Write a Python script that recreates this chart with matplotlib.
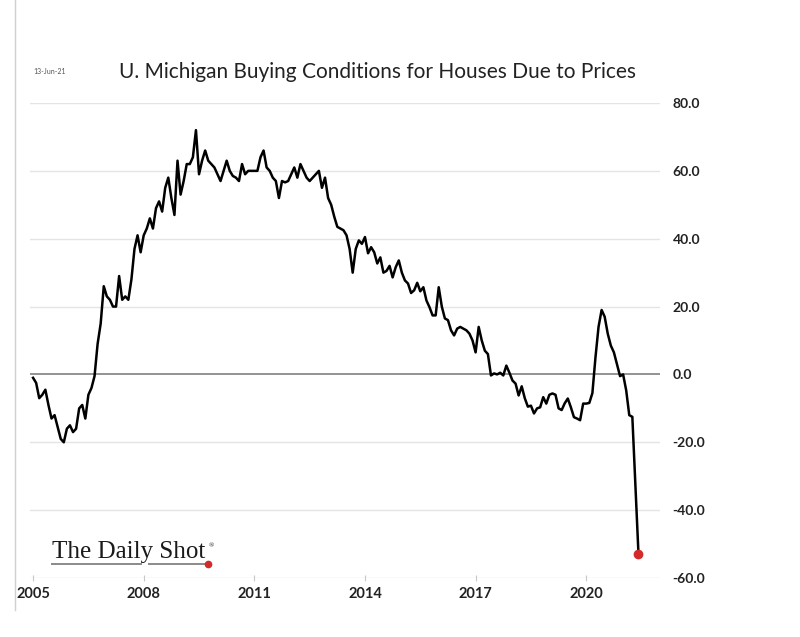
import matplotlib
matplotlib.use("Agg")
import matplotlib.pyplot as plt
from matplotlib.lines import Line2D
import numpy as np

title = "U. Michigan Buying Conditions for Houses Due to Prices"
date_stamp = "13-Jun-21"
logo_text = "The Daily Shot"
start_year = 2005

v2005 = [-1, -2.5, -7, -6, -4.5, -9, -13, -12, -15.5, -19, -20, -16]
v2006 = [-15, -17, -16, -10, -9, -13, -6, -4, -0.5, 9, 15, 26]
v2007 = [23, 22, 20, 20, 29, 22, 23, 22, 28, 37, 41, 36]
v2008 = [41, 43, 46, 43, 49, 51, 48, 55, 58, 52, 47, 63]
v2009 = [53, 57, 62, 62, 64, 72, 59, 63, 66, 63, 62, 61]
v2010 = [59, 57, 60, 63, 60, 58.5, 58, 57, 62, 59, 60, 60]
v2011 = [60, 60, 64, 66, 61, 60, 58, 57, 52, 57, 56.6, 57]
v2012 = [59, 61, 58, 62, 60, 58, 57, 58, 59, 60, 55, 58]
v2013 = [52, 50, 46.5, 43.5, 43, 42.5, 41, 37, 30, 37, 39.5, 38.5]
v2014 = [40.5, 35.7, 37.5, 36, 32.7, 34.5, 30, 30.5, 32, 28.6, 31.6, 33.6]
v2015 = [30, 27.7, 26.8, 24, 24.8, 27, 24.5, 25.7, 21.8, 19.8, 17.4, 17.4]
v2016 = [25.7, 20, 16.5, 16, 13, 11.5, 13.5, 14, 13.5, 13, 12, 10]
v2017 = [6.5, 14, 10, 7, 6, -0.3, 0.3, 0, 0.5, -0.3, 2.6, 0.5]
v2018 = [-1.8, -2.7, -6.2, -3.5, -7, -9.5, -9.2, -11.5, -10, -9.7, -6.7, -8.6]
v2019 = [-6, -5.6, -6, -10, -10.5, -8.5, -7.1, -9.7, -12.6, -13, -13.5, -8.6]
v2020 = [-8.6, -8.4, -5.5, 5, 14, 19, 17, 12, 8.5, 6.5, 3, -0.5]
v2021 = [0, -4.7, -12, -12.5, -33, -53]

values = (v2005 + v2006 + v2007 + v2008 + v2009 + v2010 + v2011 + v2012 +
          v2013 + v2014 + v2015 + v2016 + v2017 + v2018 + v2019 + v2020 + v2021)

x_ticks = [2005, 2008, 2011, 2014, 2017, 2020]
x_tick_labels = ["2005", "2008", "2011", "2014", "2017", "2020"]
y_ticks = [-60, -40, -20, 0, 20, 40, 60, 80]
y_tick_labels = ["-60.0", "-40.0", "-20.0", "0.0", "20.0", "40.0", "60.0", "80.0"]

months = np.arange(len(values))
t = start_year + months / 12.0

fig = plt.figure(figsize=(8, 6.37), dpi=100)
ax = fig.add_axes([30 / 800, 1 - 578 / 637, 630 / 800, 475 / 637])
ax.set_xlim(start_year - 1 / 12, start_year + 204 / 12)
ax.set_ylim(-60, 80)
for s in ax.spines.values():
    s.set_visible(False)

for yv in y_ticks:
    if yv != 0:
        ax.axhline(yv, color="#e4e4e4", lw=1.0, zorder=1)
ax.axhline(0, color="#8a8a8a", lw=1.3, zorder=2)

ax.plot(t, values, color="black", lw=1.8, zorder=3, solid_joinstyle="round")
ax.plot(t[-1], values[-1], "o", color="#d42a2a", ms=6, zorder=4)

ax.set_xticks(x_ticks)
ax.set_xticklabels(x_tick_labels, fontweight="bold", fontsize=10.5, family="Lato", color="#222222")
ax.tick_params(axis="x", length=5, direction="inout", color="#c8c8c8", pad=4)

ax.yaxis.tick_right()
ax.set_yticks(y_ticks)
ax.set_yticklabels(y_tick_labels, fontweight="bold", fontsize=10, family="Lato", color="#222222")
ax.tick_params(axis="y", length=0, pad=9)

fig.text(119 / 800, 1 - 72 / 637, title, family="Lato", fontsize=15, va="center", ha="left", color="#222222")
fig.text(33 / 800, 1 - 72 / 637, date_stamp, family="Lato", fontsize=5, va="center", ha="left", color="#555555")

# left border line
fig.add_artist(Line2D([15 / 800, 15 / 800], [1 - 610 / 637, 1.0], color="#d0d0d0", lw=1.0))

# logo
fig.text(52 / 800, 1 - 558 / 637, logo_text, family="Liberation Serif", fontsize=18, va="baseline", ha="left", color="#1a1a1a")
fig.text(209 / 800, 1 - 547 / 637, "\u00ae", family="Liberation Serif", fontsize=5, va="baseline", ha="left", color="#1a1a1a")
fig.add_artist(Line2D([52 / 800, 141 / 800], [1 - 564 / 637] * 2, color="#8a8a8a", lw=1.4))
fig.add_artist(Line2D([149 / 800, 206 / 800], [1 - 564 / 637] * 2, color="#8a8a8a", lw=1.4))
fig.add_artist(Line2D([208 / 800], [1 - 564 / 637], marker="o", color="#d42a2a", ms=4.5))

fig.savefig("out.png", dpi=100, facecolor="white")
